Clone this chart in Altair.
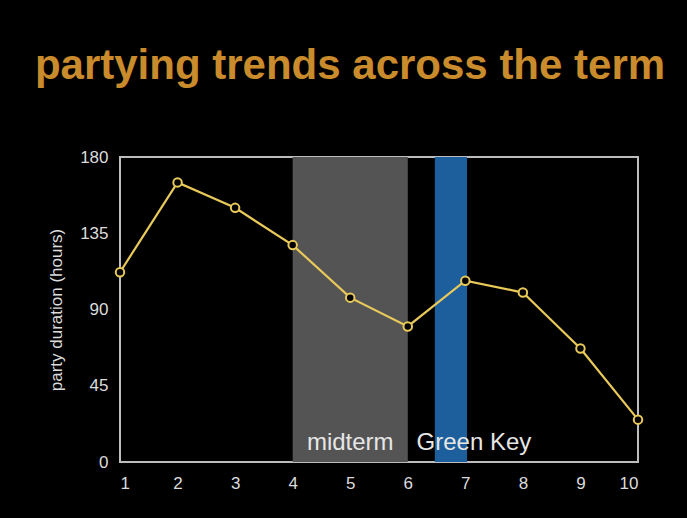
import altair as alt
import pandas as pd

# Week of term and average party duration
weeks = [1, 2, 3, 4, 5, 6, 7, 8, 9, 10]
hours = [112, 165, 150, 128, 97, 80, 107, 100, 67, 25]

# Shaded periods of the term
band_names = ["midterm", "Green Key"]
band_start = [4.0, 6.47]
band_end = [6.0, 7.03]
band_colors = ["#545454", "#1d5e9c"]

# Period labels placed near the bottom of the plot
label_text = ["midterm", "Green Key"]
label_x = [5.0, 7.15]
label_y = [7, 7]

W, H = 518, 305

data = pd.DataFrame({"week": weeks, "hours": hours})
bands = pd.DataFrame({"name": band_names, "start": band_start, "end": band_end, "color": band_colors})
labels = pd.DataFrame({"text": label_text, "x": label_x, "y": label_y})

x_scale = alt.Scale(domain=[1, 10], nice=False, zero=False)
y_scale = alt.Scale(domain=[0, 180], nice=False)

band_layer = alt.Chart(bands).mark_rect().encode(
    x=alt.X("start:Q", scale=x_scale),
    x2="end:Q",
    y=alt.value(0),
    y2=alt.value(H),
    color=alt.Color("color:N", scale=None),
)

line_layer = alt.Chart(data).mark_line(color="#e8c95a", strokeWidth=2.2).encode(
    x=alt.X("week:Q", scale=x_scale,
            axis=alt.Axis(values=weeks, title=None, format="d")),
    y=alt.Y("hours:Q", scale=y_scale,
            axis=alt.Axis(values=[0, 45, 90, 135, 180], title="party duration (hours)")),
)

point_layer = alt.Chart(data).mark_point(
    shape="circle", size=72, filled=True, fill="#000000",
    stroke="#e8c95a", strokeWidth=2, opacity=1,
).encode(
    x=alt.X("week:Q", scale=x_scale),
    y=alt.Y("hours:Q", scale=y_scale),
)

text_layer = alt.Chart(labels).mark_text(
    font="Liberation Sans", fontSize=24, color="#e6e6e6",
    align="center", baseline="alphabetic",
).encode(
    x=alt.X("x:Q", scale=x_scale),
    y=alt.Y("y:Q", scale=y_scale),
    text="text:N",
)

chart = alt.layer(band_layer, line_layer, point_layer, text_layer).properties(
    width=W,
    height=H,
    autosize=alt.AutoSizeParams(type="none"),
    padding={"left": 120, "top": 157, "right": 49, "bottom": 56},
    background="#000000",
    title=alt.TitleParams(
        "partying trends across the term",
        font="Liberation Sans", fontSize=42, fontWeight="bold",
        color="#c98b2b", anchor="middle", frame="group",
        dx=-29, offset=60,
    ),
).configure_view(
    stroke="#bdbdbd", strokeWidth=2,
).configure_axis(
    domain=False, grid=False, ticks=False,
    labelColor="#dcdcdc", labelFont="Liberation Sans", labelFontSize=17,
    titleColor="#dcdcdc", titleFont="Liberation Sans", titleFontSize=17,
    titleFontWeight="normal",
).configure_axisY(
    labelPadding=12, titlePadding=14,
).configure_axisX(
    labelPadding=13,
)

chart.save("out.html", embed_options={"renderer": "svg", "actions": False})
